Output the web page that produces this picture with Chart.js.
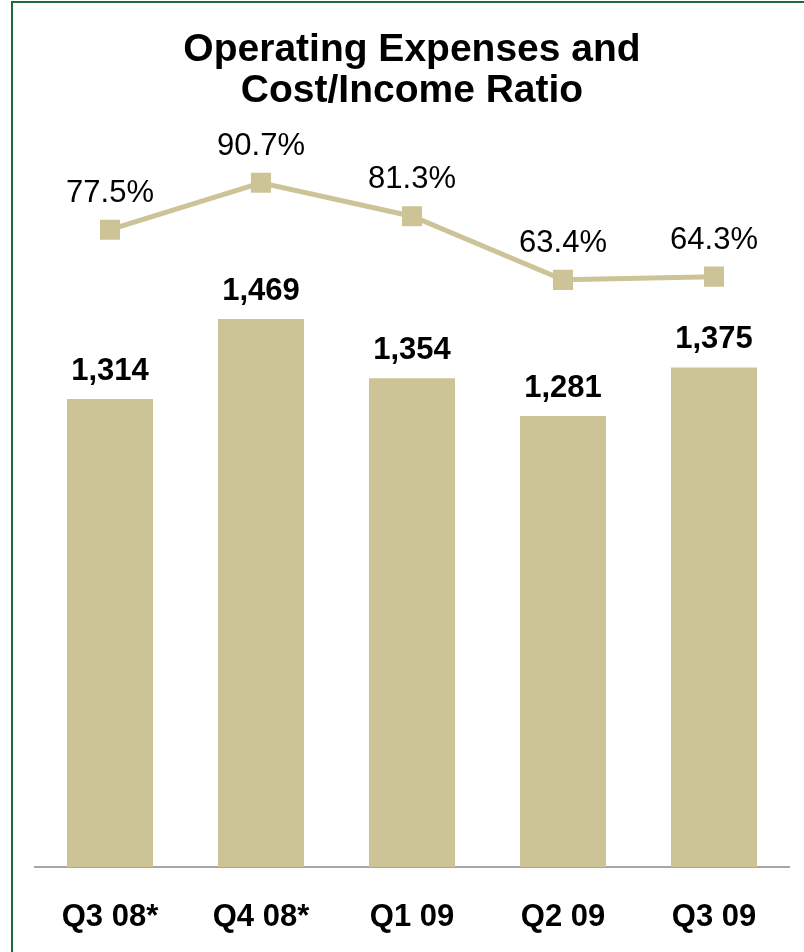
<!DOCTYPE html>
<html>
<head>
<meta charset="utf-8">
<script src="https://cdn.jsdelivr.net/npm/chart.js@4/dist/chart.umd.min.js"></script>
<style>
  html, body { margin: 0; padding: 0; background: #ffffff; }
  #frame {
    position: absolute; left: 11px; top: 1px; width: 793px; height: 951px;
    border-left: 2px solid #1f6b3c; border-top: 2px solid #1f6b3c;
    box-sizing: border-box;
  }
  #wrap { position: absolute; left: 0; top: 0; width: 804px; height: 952px; }
</style>
</head>
<body>
<div id="frame"></div>
<div id="wrap"><canvas id="c" width="804" height="952"></canvas></div>
<script>
// Quarterly operating expenses (EUR m) and cost/income ratio (%)
const categories = ['Q3 08*', 'Q4 08*', 'Q1 09', 'Q2 09', 'Q3 09'];
const operatingExpenses = [1314, 1469, 1354, 1281, 1375];
const costIncomeRatio = [77.5, 90.7, 81.3, 63.4, 64.3];

const TAN = '#ccc497';
const FONT = '"Liberation Sans", Arial, Helvetica, sans-serif';

// Writes the value above each bar and each line point
const valueLabels = {
  id: 'valueLabels',
  afterDatasetsDraw(chart) {
    const ctx = chart.ctx;
    ctx.save();
    ctx.fillStyle = '#000';
    ctx.textAlign = 'center';
    ctx.textBaseline = 'alphabetic';
    chart.data.datasets.forEach((ds, i) => {
      const meta = chart.getDatasetMeta(i);
      meta.data.forEach((el, j) => {
        const v = ds.data[j];
        if (ds.type === 'bar') {
          ctx.font = 'bold 31px ' + FONT;
          ctx.fillText(v.toLocaleString('en-US'), el.x, el.y - 19);
        } else {
          ctx.font = '31px ' + FONT;
          ctx.fillText(v.toFixed(1) + '%', el.x, el.y - 28);
        }
      });
    });
    ctx.restore();
  }
};

new Chart(document.getElementById('c'), {
  data: {
    labels: categories,
    datasets: [
      {
        type: 'line',
        label: 'Cost/Income Ratio',
        data: costIncomeRatio,
        yAxisID: 'y1',
        borderColor: TAN,
        backgroundColor: TAN,
        borderWidth: 5,
        tension: 0,
        pointStyle: 'rect',
        pointRadius: 14.2,
        pointBorderWidth: 0,
        pointBackgroundColor: TAN,
        order: 0
      },
      {
        type: 'bar',
        label: 'Operating Expenses',
        data: operatingExpenses,
        yAxisID: 'y',
        backgroundColor: TAN,
        borderWidth: 0,
        categoryPercentage: 1,
        barPercentage: 0.57,
        order: 1
      }
    ]
  },
  options: {
    responsive: false,
    animation: false,
    events: [],
    layout: { padding: { left: 34.5, right: 14.5, top: 0, bottom: 0 } },
    plugins: {
      legend: { display: false },
      tooltip: { enabled: false },
      title: {
        display: true,
        fullSize: false,
        text: ['Operating Expenses and', 'Cost/Income Ratio'],
        color: '#000',
        font: { family: FONT, size: 39, weight: 'bold', lineHeight: 1.05 },
        padding: { top: 30, bottom: 8 }
      }
    },
    scales: {
      x: {
        offset: true,
        grid: { display: false, drawTicks: false },
        border: { display: true, color: '#a6a6a6', width: 2 },
        ticks: {
          color: '#000',
          padding: 32,
          font: { family: FONT, size: 31, weight: 'bold' }
        },
        afterFit(scale) { scale.height = 85; }
      },
      y: {
        display: false,
        min: 407,
        max: 1854.7
      },
      y1: {
        display: false,
        position: 'right',
        min: -101.8,
        max: 108.4
      }
    }
  },
  plugins: [valueLabels]
});
</script>
</body>
</html>
